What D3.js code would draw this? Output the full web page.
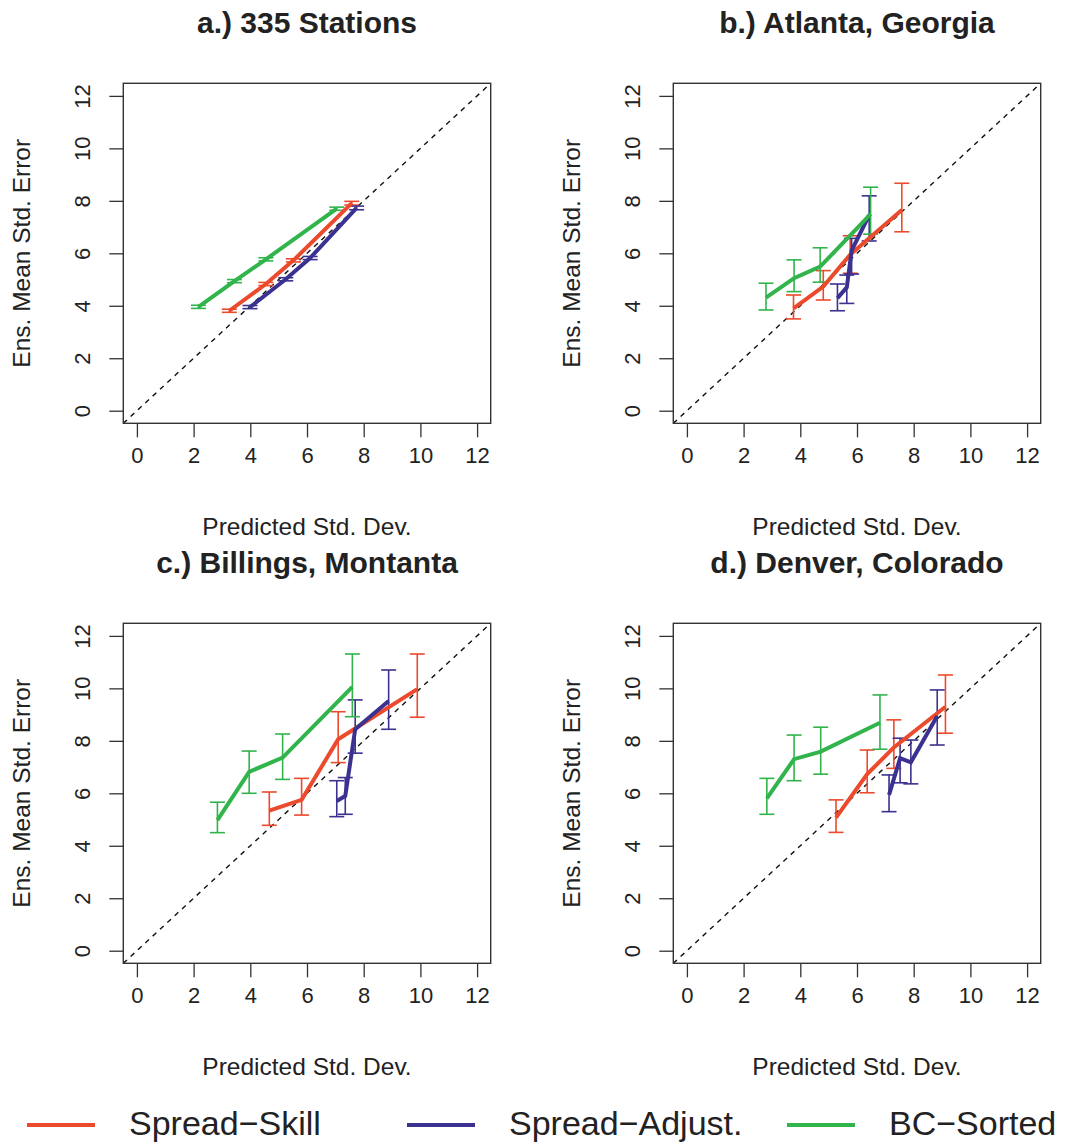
<!DOCTYPE html>
<meta charset="utf-8">
<script src="https://d3js.org/d3.v7.min.js"></script>
<style>
  body { margin: 0; background: #fff; }
  text { font-family: "Liberation Sans", Arial, Helvetica, sans-serif; fill: #222; }
</style>
<div id="my_dataviz"></div>
<script>

// panel titles
var titles = ["a.) 335 Stations", "b.) Atlanta, Georgia", "c.) Billings, Montanta", "d.) Denver, Colorado"];
var ticks = [0, 2, 4, 6, 8, 10, 12];

// rows: [predicted sd, mean error, lower bar, upper bar]
var skillA = [[3.26, 3.81, 3.75, 3.87], [4.55, 4.83, 4.77, 4.89], [5.52, 5.73, 5.67, 5.79], [7.58, 7.91, 7.84, 7.98]];
var adjA   = [[3.99, 3.95, 3.89, 4.01], [5.25, 5.01, 4.95, 5.07], [6.11, 5.82, 5.76, 5.88], [7.75, 7.73, 7.66, 7.80]];
var sortA  = [[2.17, 3.96, 3.90, 4.02], [3.44, 4.94, 4.88, 5.00], [4.55, 5.77, 5.71, 5.83], [7.05, 7.70, 7.64, 7.76]];

var skillB = [[3.76, 3.90, 3.50, 4.41], [4.81, 4.73, 4.22, 5.34], [5.76, 5.95, 5.24, 6.67], [7.58, 7.65, 6.82, 8.67]];
var adjB   = [[5.31, 4.29, 3.81, 4.83], [5.64, 4.70, 4.09, 5.17], [5.81, 6.10, 5.21, 6.57], [6.43, 7.46, 6.47, 8.19]];
var sortB  = [[2.79, 4.31, 3.84, 4.86], [3.78, 5.05, 4.54, 5.75], [4.70, 5.49, 4.90, 6.21], [6.48, 7.49, 6.73, 8.52]];

var skillC = [[4.67, 5.34, 4.78, 6.05], [5.81, 5.75, 5.17, 6.57], [7.10, 8.06, 7.17, 9.11], [9.89, 9.97, 8.90, 11.31]];
var adjC   = [[7.05, 5.71, 5.11, 6.48], [7.35, 5.90, 5.20, 6.60], [7.70, 8.44, 7.53, 9.56], [8.88, 9.52, 8.44, 10.70]];
var sortC  = [[2.84, 4.98, 4.50, 5.66], [3.96, 6.82, 6.00, 7.61], [5.14, 7.36, 6.53, 8.26], [7.60, 10.06, 8.92, 11.31]];

var skillD = [[5.26, 5.07, 4.51, 5.75], [6.36, 6.73, 6.02, 7.65], [7.30, 7.75, 6.95, 8.80], [9.12, 9.30, 8.29, 10.51]];
var adjD   = [[7.13, 5.94, 5.30, 6.70], [7.52, 7.34, 6.40, 8.10], [7.90, 7.18, 6.36, 8.03], [8.83, 8.95, 7.84, 9.94]];
var sortD  = [[2.82, 5.81, 5.20, 6.57], [3.78, 7.30, 6.48, 8.22], [4.72, 7.59, 6.73, 8.52], [6.81, 8.69, 7.68, 9.75]];

var methods = ["Spread\u2212Skill", "Spread\u2212Adjust.", "BC\u2212Sorted"];
var colors = ["#ec4a2c", "#3a3190", "#30b44b"];

var panels = [
  [skillA, adjA, sortA],
  [skillB, adjB, sortB],
  [skillC, adjC, sortC],
  [skillD, adjD, sortD]
];

var W = 1068, H = 1143;
var boxW = 367.4, boxH = 340;

var svg = d3.select("#my_dataviz")
  .append("svg")
    .attr("width", W)
    .attr("height", H);

panels.forEach(function(series, i) {
  var left = 123.3 + (i % 2) * 550,
      top = 83.3 + Math.floor(i / 2) * 540;

  var g = svg.append("g")
      .attr("transform", "translate(" + left + "," + top + ")");

  var x = d3.scaleLinear().domain([-0.48, 12.48]).range([0, boxW]);
  var y = d3.scaleLinear().domain([-0.48, 12.48]).range([boxH, 0]);

  // clip for the 1:1 line
  g.append("clipPath").attr("id", "clip" + i)
    .append("rect").attr("width", boxW).attr("height", boxH);

  g.append("line")
      .attr("clip-path", "url(#clip" + i + ")")
      .attr("x1", x(-0.48)).attr("y1", y(-0.48))
      .attr("x2", x(12.48)).attr("y2", y(12.48))
      .attr("stroke", "#111")
      .attr("stroke-width", 1.4)
      .attr("stroke-dasharray", "5,5");

  // x axis
  var xa = g.append("g")
      .attr("transform", "translate(0," + boxH + ")")
      .call(d3.axisBottom(x).tickValues(ticks).tickSize(14).tickPadding(10));
  xa.select(".domain").remove();
  xa.selectAll("line").attr("stroke", "#333").attr("stroke-width", 1.3);
  xa.selectAll("text").attr("font-size", 22).attr("fill", "#222")
      .attr("font-family", "Liberation Sans, Arial, sans-serif");

  // y axis, labels parallel to axis
  var ya = g.append("g")
      .call(d3.axisLeft(y).tickValues(ticks).tickSize(14));
  ya.select(".domain").remove();
  ya.selectAll("line").attr("stroke", "#333").attr("stroke-width", 1.3);
  ya.selectAll("text")
      .attr("font-size", 22).attr("fill", "#222")
      .attr("font-family", "Liberation Sans, Arial, sans-serif")
      .attr("x", 0).attr("dy", null)
      .attr("text-anchor", "middle")
      .attr("transform", "translate(-33,0) rotate(-90)");

  // box
  g.append("rect")
      .attr("width", boxW).attr("height", boxH)
      .attr("fill", "none").attr("stroke", "#333").attr("stroke-width", 1.4);

  // error bars then lines for each method
  series.forEach(function(rows, k) {
    var bars = g.append("g").attr("stroke", colors[k]).attr("stroke-width", 1.6).attr("fill", "none");
    rows.forEach(function(d) {
      bars.append("line").attr("x1", x(d[0])).attr("x2", x(d[0])).attr("y1", y(d[2])).attr("y2", y(d[3]));
      bars.append("line").attr("x1", x(d[0]) - 7.5).attr("x2", x(d[0]) + 7.5).attr("y1", y(d[2])).attr("y2", y(d[2]));
      bars.append("line").attr("x1", x(d[0]) - 7.5).attr("x2", x(d[0]) + 7.5).attr("y1", y(d[3])).attr("y2", y(d[3]));
    });
  });
  series.forEach(function(rows, k) {
    g.append("path")
        .datum(rows)
        .attr("fill", "none")
        .attr("stroke", colors[k])
        .attr("stroke-width", 4)
        .attr("d", d3.line().x(function(d) { return x(d[0]); }).y(function(d) { return y(d[1]); }));
  });

  // titles and axis labels
  g.append("text")
      .attr("x", boxW / 2).attr("y", -50)
      .attr("text-anchor", "middle")
      .attr("font-size", 30).attr("font-weight", "bold")
      .text(titles[i]);

  g.append("text")
      .attr("x", boxW / 2).attr("y", boxH + 112)
      .attr("text-anchor", "middle")
      .attr("font-size", 24.5)
      .text("Predicted Std. Dev.");

  g.append("text")
      .attr("transform", "translate(-93," + (boxH / 2) + ") rotate(-90)")
      .attr("text-anchor", "middle")
      .attr("font-size", 24.5)
      .text("Ens. Mean Std. Error");
});

// legend along the bottom
var legX = [27, 407, 787];
var leg = svg.append("g").attr("transform", "translate(0,1125)");
methods.forEach(function(m, k) {
  leg.append("line")
      .attr("x1", legX[k]).attr("x2", legX[k] + 68)
      .attr("stroke", colors[k]).attr("stroke-width", 4);
  leg.append("text")
      .attr("x", legX[k] + 102).attr("y", 10)
      .attr("font-size", 34)
      .text(m);
});

</script>
</body>
</html>
